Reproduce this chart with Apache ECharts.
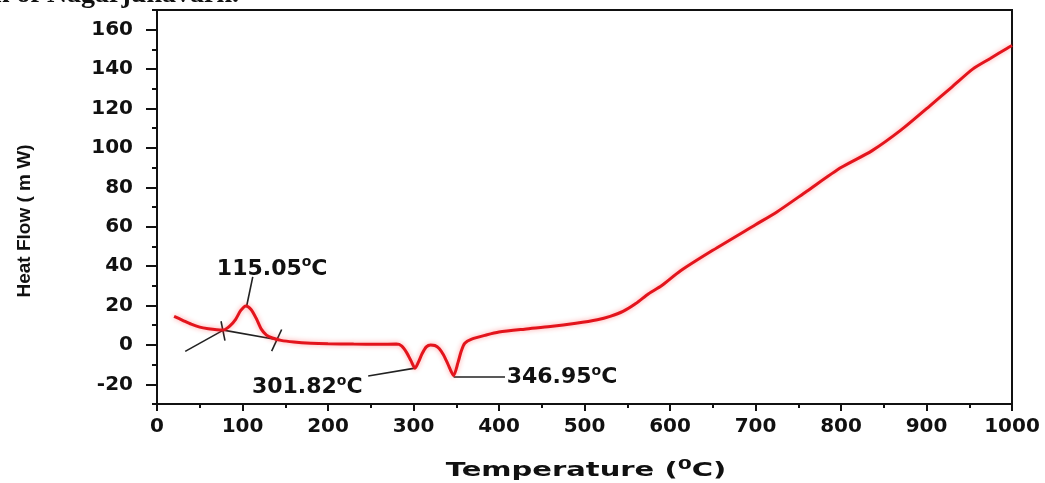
<!DOCTYPE html>
<html>
<head>
<meta charset="utf-8">
<script src="https://cdn.jsdelivr.net/npm/echarts@6/dist/echarts.min.js"></script>
<style>
html,body{margin:0;padding:0;background:#fff;}
#chart{width:1045px;height:483px;}
</style>
</head>
<body>
<div id="chart"></div>
<script>
// DSC curve: temperature (°C) and heat flow (mW)
var temperature = [20,30,40,50,60,70,78,85,92,98,104,110,116,122,128,135,145,160,180,200,230,260,280,286,292,297,301.8,306,310,315,320,325,330,335,340,346.9,352,356,360,368,385,400,430,460,490,515,530,545,560,575,590,612,650,700,725,760,800,836,870,903,930,954,975,994,1000];
var heatFlow = [14.5,12.5,10.5,9,8.2,7.7,7.6,9.5,13,17.5,19.8,18,13.5,8,5,3.5,2.3,1.5,0.9,0.6,0.4,0.3,0.4,-0.5,-3.9,-8,-11.8,-8.5,-4.5,-1,0,-0.3,-1.8,-5,-9.5,-15.5,-9,-3,0.8,2.9,5,6.5,8,9.3,11,12.8,14.5,17,21,26,30,37.5,48,61,67.5,78,90,98.5,109,121,131,140,145.5,150.5,152];

// tangent construction lines around the 115.05 °C peak
var tangentA = [[33,-3.3],[77.6,7.5]];
var tangentB = [[77.6,7.5],[141,2.6]];
var tickMarkA = [[74.9,12],[79.5,2.2]];
var tickMarkB = [[145.8,7.8],[134.1,-3.2]];

// leader lines to the annotations
var leader115 = [[105,20],[112,34.5]];
var leader301 = [[247,-15.8],[301.8,-11.8]];
var leader346 = [[346.9,-16.3],[407,-16.3]];

// annotation labels: [x, y, main text]
var annotations = [[70,38.6,'115.05'],[111,-21.7,'301.82'],[409,-16.3,'346.95']];

// axis ticks
var xMajor = [0,100,200,300,400,500,600,700,800,900,1000];
var yMajor = [-20,0,20,40,60,80,100,120,140,160];
var yRange = [-30,170];

var chart = echarts.init(document.getElementById('chart'));
var lblFont = {fontFamily:'DejaVu Sans', fontWeight:'bold', fontSize:20, color:'#111'};

function blackLine(d){
  return {type:'line', data:d, symbol:'none', silent:true, z:3,
    lineStyle:{color:'#222', width:1.6}, animation:false};
}

chart.setOption({
  animation:false,
  backgroundColor:'#fff',
  grid:{left:157, right:33, top:10, bottom:79, show:true, borderColor:'#111', borderWidth:2, backgroundColor:'transparent'},
  xAxis:{
    type:'value', min:xMajor[0], max:xMajor[xMajor.length-1], interval:100,
    axisLine:{show:true, onZero:false, lineStyle:{color:'#111', width:2}},
    axisTick:{show:true, inside:false, length:7, lineStyle:{color:'#111', width:2}},
    minorTick:{show:true, splitNumber:2, length:4, lineStyle:{color:'#111', width:2}},
    splitLine:{show:false},
    axisLabel:Object.assign({margin:13, formatter:function(v){return String(v);}}, lblFont)
  },
  yAxis:[{
    type:'value', min:yRange[0], max:yRange[1], interval:10,
    axisLine:{show:true, onZero:false, lineStyle:{color:'#111', width:2}},
    axisTick:{show:true, inside:false, length:11, customValues:yMajor, lineStyle:{color:'#111', width:2}},
    splitLine:{show:false},
    axisLabel:Object.assign({margin:24, customValues:yMajor,
      formatter:function(v){ return (v%20===0) ? String(v) : ''; }}, lblFont)
  },{
    type:'value', min:yRange[0], max:yRange[1], interval:10, position:'left',
    axisLine:{show:false},
    axisTick:{show:true, inside:false, length:5, lineStyle:{color:'#111', width:2}},
    axisLabel:{show:false}, splitLine:{show:false}
  }],
  series:[
    {type:'line', data:temperature.map(function(t,i){return [t,heatFlow[i]];}),
     symbol:'none', smooth:0.25, z:4,
     lineStyle:{color:'#e3141c', width:3, shadowColor:'rgba(255,40,40,0.45)', shadowBlur:5}},
    blackLine(tangentA), blackLine(tangentB), blackLine(tickMarkA), blackLine(tickMarkB),
    blackLine(leader115), blackLine(leader301), blackLine(leader346),
    {type:'scatter', data:annotations.map(function(a){return [a[0],a[1],a[2]];}),
     symbolSize:0, z:5, silent:true, itemStyle:{opacity:1},
     label:{show:true, position:'right', distance:0,
       formatter:function(p){return p.data[2]+'{s|o}C';},
       fontFamily:'DejaVu Sans', fontWeight:'bold', fontSize:22, color:'#111', lineHeight:26,
       rich:{s:{fontFamily:'DejaVu Sans', fontSize:14, fontWeight:'bold', color:'#111', verticalAlign:'top', lineHeight:12}}}}
  ],
  graphic:[
    {type:'text', left:-6, top:-19, silent:true,
     style:{text:'n of Nagarjunavarh.', font:'bold 28px "Liberation Serif"', fill:'#111'}},
    {type:'text', x:25, y:221, rotation:Math.PI/2, silent:true,
     style:{text:'Heat Flow ( m W)', font:'bold 19px "Liberation Sans"', fill:'#111', align:'center', verticalAlign:'middle'}},
    {type:'text', x:586, y:471, scaleX:1.45, silent:true,
     style:{text:'Temperature ({s|0}C)', font:'bold 20px "DejaVu Sans"', fill:'#111', align:'center', verticalAlign:'middle', lineHeight:26,
       rich:{s:{font:'bold 14px "DejaVu Sans"', fill:'#111', verticalAlign:'top', lineHeight:12}}}}
  ]
});
</script>
</body>
</html>
